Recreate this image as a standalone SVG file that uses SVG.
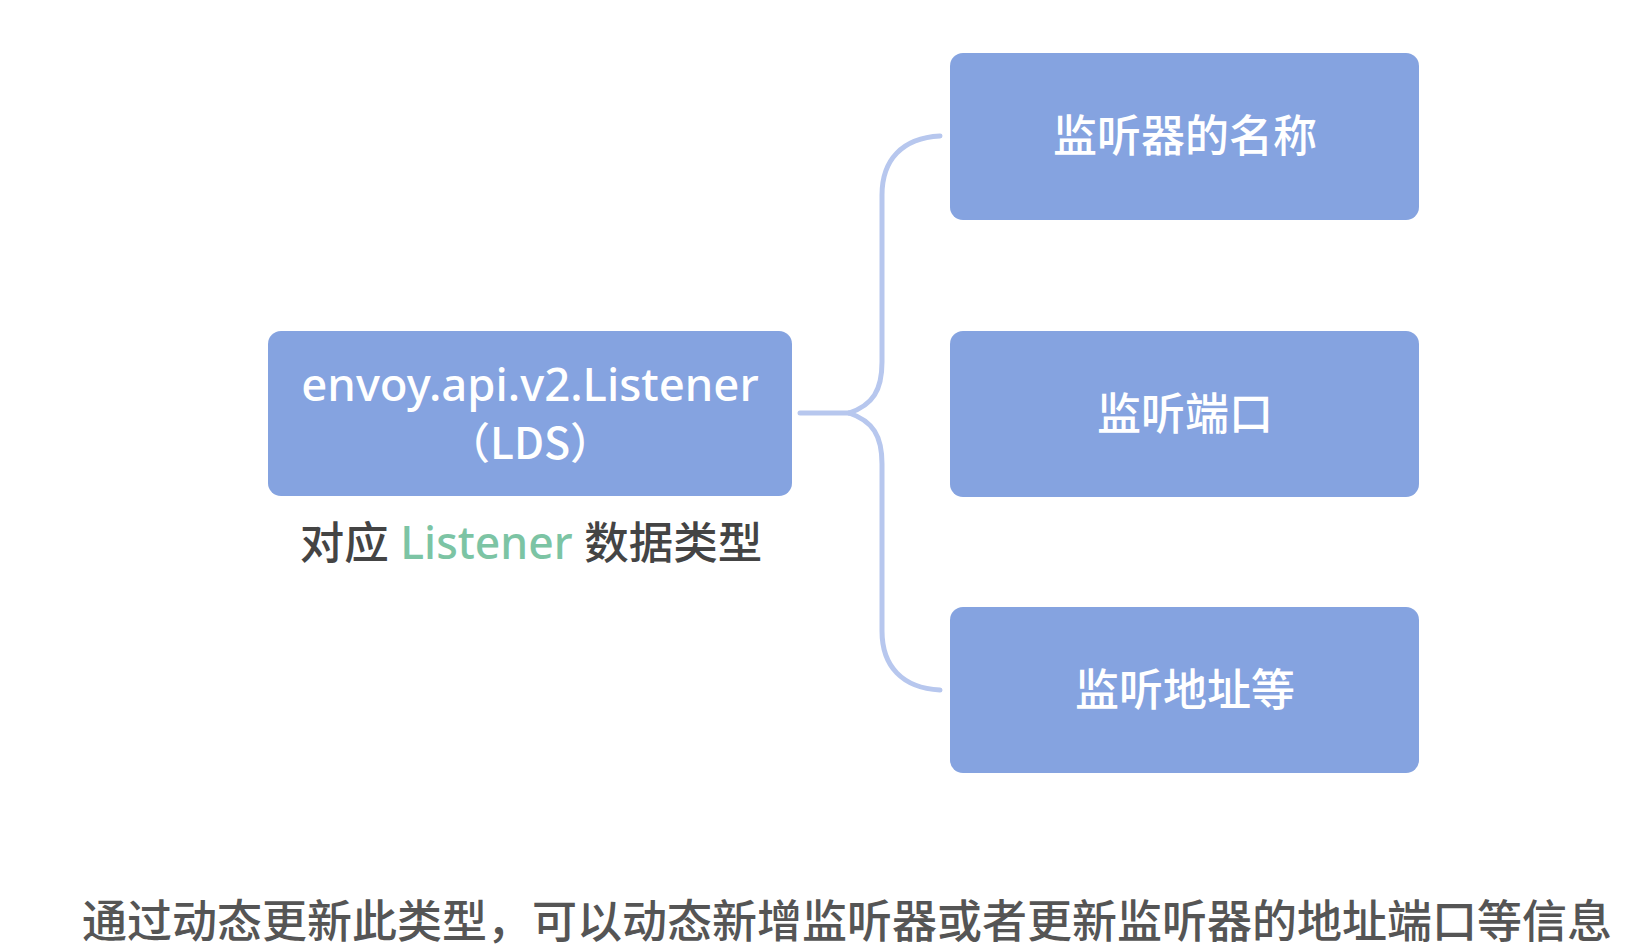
<svg xmlns="http://www.w3.org/2000/svg" width="1626" height="948" viewBox="0 0 1626 948">
<style>
.box{fill:#85a3e0;}
.t{font-family:"Noto Sans","Noto Sans CJK SC",sans-serif;fill:#ffffff;text-anchor:middle;font-weight:500;}
.cjk{font-family:"Noto Sans CJK SC",sans-serif;}
.conn{fill:none;stroke:#b7c7ee;stroke-width:5;stroke-linecap:round;}
.cap{font-family:"Noto Sans","Noto Sans CJK SC",sans-serif;fill:#444444;font-weight:500;}
</style>
<rect width="1626" height="948" fill="#ffffff"/>
<g id="connectors">
<path class="conn" d="M 800 413 H 849"/>
<path class="conn" d="M 849 413 C 873 405, 882 390, 882 362 V 195 C 882 160, 902 138, 940 136"/>
<path class="conn" d="M 849 413 C 873 421, 882 436, 882 464 V 631 C 882 666, 902 688, 940 690"/>
</g>
<g id="node-listener">
<rect class="box" x="268" y="331" width="524" height="165" rx="13"/>
<text class="t" x="530" y="401" font-size="45.5">envoy.api.v2.Listener</text>
<text class="t cjk" x="530" y="459" font-size="43">（LDS）</text>
</g>
<g id="caption-listener">
<text class="cap" x="531" y="559" font-size="44.5" text-anchor="middle"><tspan class="cjk">对应</tspan> <tspan fill="#7cc4a4">Listener</tspan> <tspan class="cjk">数据类型</tspan></text>
</g>
<g id="node-name">
<rect class="box" x="950" y="53" width="469" height="167" rx="13"/>
<text class="t cjk" x="1185" y="152" font-size="44">监听器的名称</text>
</g>
<g id="node-port">
<rect class="box" x="950" y="331" width="469" height="166" rx="13"/>
<text class="t cjk" x="1185" y="430" font-size="44">监听端口</text>
</g>
<g id="node-address">
<rect class="box" x="950" y="607" width="469" height="166" rx="13"/>
<text class="t cjk" x="1185" y="706" font-size="44">监听地址等</text>
</g>
<g id="footer">
<text class="cjk" x="847" y="938" font-size="45" fill="#555555" font-weight="500" text-anchor="middle">通过动态更新此类型，可以动态新增监听器或者更新监听器的地址端口等信息</text>
</g>
</svg>
